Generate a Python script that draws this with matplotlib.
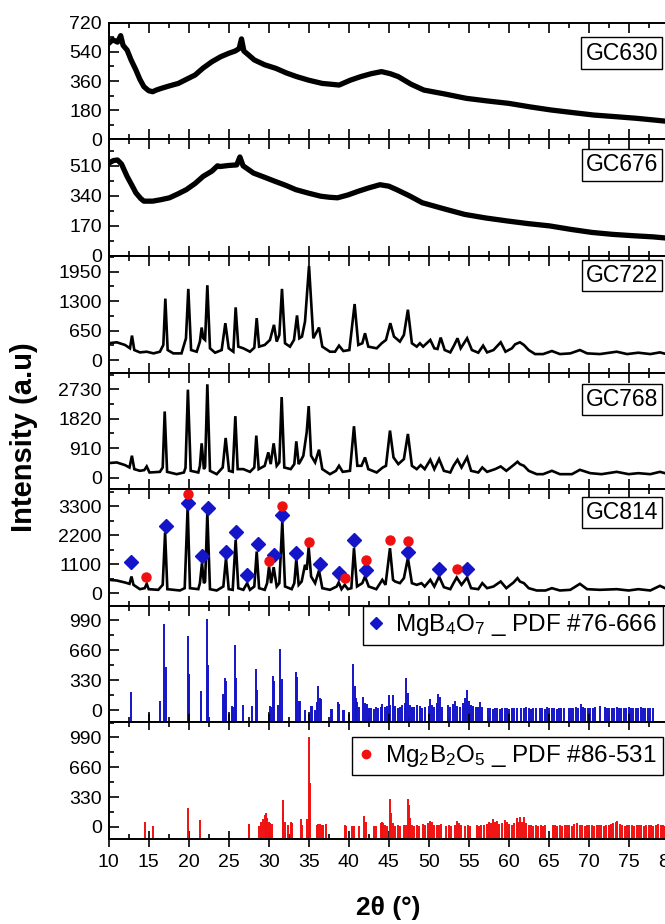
import matplotlib.pyplot as plt
from matplotlib.lines import Line2D
from matplotlib.ticker import MultipleLocator, AutoMinorLocator

plt.rcParams['font.family'] = ['Liberation Sans', 'DejaVu Sans']
plt.rcParams['mathtext.fontset'] = 'custom'
plt.rcParams['mathtext.rm'] = 'Liberation Sans'
plt.rcParams['mathtext.default'] = 'regular'

gc630 = [(10.0, 592), (10.5, 615), (11.1, 600), (11.5, 640), (11.8, 580), (12.3, 551), (12.8, 490),
         (13.4, 428), (13.9, 370), (14.4, 325), (15.0, 300), (15.5, 294), (16.0, 305), (16.6, 315),
         (17.6, 330), (18.7, 345), (19.7, 370), (20.8, 397), (21.8, 440), (22.9, 479), (24.0, 510),
         (25.0, 531), (25.8, 545), (26.3, 560), (26.6, 620), (26.9, 545), (27.5, 520), (28.2, 490),
         (29.5, 460), (30.9, 438), (32.2, 410), (33.5, 387), (35.0, 365), (36.7, 345), (37.8, 340),
         (38.8, 335), (40.2, 365), (41.5, 387), (42.8, 405), (44.1, 418), (45.2, 405), (46.2, 387),
         (47.8, 340), (49.4, 304), (52.0, 280), (54.7, 253), (57.3, 237), (60.0, 222), (62.7, 200),
         (65.3, 181), (68.0, 165), (70.6, 150), (73.3, 140), (75.9, 130), (78.0, 120), (80.0, 110)]

gc676 = [(10.0, 525), (10.6, 540), (11.1, 543), (11.6, 520), (12.3, 450), (12.9, 400), (13.4, 357),
         (14.0, 325), (14.4, 310), (15.5, 310), (16.5, 318), (17.6, 329), (18.6, 350), (19.7, 375),
         (20.8, 410), (21.8, 450), (22.9, 480), (23.6, 510), (23.9, 506), (25.0, 512), (26.0, 515),
         (26.4, 560), (26.8, 510), (28.1, 469), (29.5, 445), (30.8, 422), (32.1, 400), (33.4, 375),
         (35.0, 355), (36.5, 338), (37.6, 332), (38.6, 329), (39.9, 345), (41.2, 366), (42.5, 385),
         (43.9, 403), (45.0, 395), (46.0, 375), (47.6, 340), (49.2, 301), (51.8, 268), (54.5, 235),
         (57.1, 215), (59.8, 198), (62.4, 183), (65.1, 170), (67.8, 150), (70.4, 133), (73.0, 122),
         (75.7, 114), (78.0, 108), (80.0, 100)]

gc722 = [(9.95, 371), (11.0, 393), (12.04, 334), (12.66, 260), (12.91, 541), (13.2, 222), (13.9, 170),
         (14.75, 185), (15.6, 148), (16.4, 185), (16.83, 334), (17.08, 1357), (17.37, 222), (18.08, 148),
         (19.1, 148), (19.66, 482), (19.95, 1572), (20.3, 222), (21.0, 185), (21.4, 408), (21.62, 719),
         (21.83, 482), (22.05, 445), (22.33, 1653), (22.66, 260), (23.3, 163), (24.12, 222), (24.58, 815),
         (25.0, 260), (25.58, 185), (25.87, 1164), (26.2, 297), (26.83, 260), (27.66, 185), (28.2, 274),
         (28.5, 927), (28.8, 297), (29.5, 334), (30.16, 445), (30.66, 778), (31.0, 408), (31.33, 556),
         (31.66, 1572), (32.04, 371), (32.66, 297), (33.16, 445), (33.54, 986), (33.83, 482), (34.16, 519),
         (34.54, 853), (35.04, 2076), (35.58, 482), (36.29, 719), (36.7, 297), (37.66, 185), (38.29, 185),
         (38.79, 319), (39.33, 200), (40.08, 222), (40.74, 1238), (41.2, 334), (41.7, 371), (42.04, 593),
         (42.45, 297), (43.5, 260), (44.12, 371), (44.66, 445), (45.2, 815), (45.66, 519), (46.4, 408),
         (46.9, 556), (47.4, 1112), (47.9, 371), (48.5, 297), (48.9, 371), (49.3, 297), (50.2, 445),
         (50.7, 260), (51.1, 245), (51.5, 497), (52.0, 222), (52.7, 170), (53.2, 334), (53.6, 482),
         (54.0, 260), (54.8, 482), (55.4, 222), (56.2, 163), (56.8, 319), (57.3, 170), (58.1, 222),
         (59.0, 393), (59.6, 185), (60.4, 260), (60.8, 348), (61.1, 371), (61.4, 393), (61.9, 334),
         (62.5, 222), (63.3, 133), (64.3, 133), (65.4, 200), (66.4, 133), (67.7, 148), (68.9, 222),
         (69.8, 148), (71.4, 133), (73.5, 185), (74.8, 133), (76.2, 163), (77.7, 133), (78.9, 170),
         (80.0, 120)]

gc768 = [(9.95, 446), (11.0, 467), (12.04, 384), (12.6, 311), (12.9, 675), (13.2, 260), (13.9, 208),
         (14.45, 230), (14.75, 343), (15.1, 156), (16.4, 176), (16.75, 311), (17.0, 2045), (17.3, 176),
         (18.5, 104), (19.4, 156), (19.6, 300), (19.9, 2720), (20.25, 208), (21.2, 156), (21.4, 363),
         (21.62, 1059), (21.9, 260), (22.05, 330), (22.33, 2886), (22.66, 208), (23.5, 104), (24.25, 311),
         (24.62, 1225), (25.04, 208), (25.5, 176), (25.83, 1900), (26.12, 260), (26.83, 260), (27.66, 176),
         (28.2, 311), (28.45, 1298), (28.75, 260), (29.5, 363), (29.95, 779), (30.25, 415), (30.62, 1059),
         (31.0, 363), (31.33, 467), (31.62, 2491), (31.95, 311), (32.75, 260), (33.2, 415), (33.45, 1121),
         (33.75, 415), (34.0, 519), (34.33, 675), (34.75, 1401), (35.0, 2211), (35.3, 675), (35.8, 467),
         (36.29, 862), (36.7, 260), (37.66, 104), (38.4, 208), (38.79, 363), (39.25, 176), (40.16, 208),
         (40.66, 1588), (41.08, 363), (41.6, 363), (42.04, 623), (42.45, 260), (43.5, 156), (44.25, 311),
         (44.66, 363), (45.16, 1453), (45.6, 623), (46.2, 415), (46.9, 571), (47.4, 1349), (47.9, 363),
         (48.5, 260), (49.0, 384), (49.5, 260), (50.2, 550), (50.7, 260), (51.3, 571), (51.9, 208),
         (52.7, 156), (53.1, 363), (53.6, 550), (54.1, 311), (54.8, 623), (55.3, 208), (56.2, 156),
         (56.7, 311), (57.3, 176), (58.3, 260), (59.0, 343), (59.7, 208), (60.6, 384), (61.1, 488),
         (61.4, 415), (61.9, 363), (62.5, 208), (63.5, 104), (64.3, 104), (65.4, 208), (66.4, 104),
         (67.9, 104), (68.9, 239), (70.2, 135), (71.6, 104), (73.5, 176), (75.0, 104), (76.2, 135),
         (77.7, 104), (78.9, 176), (80.0, 104)]

gc814 = [(9.95, 508), (11.0, 482), (12.04, 406), (12.6, 355), (12.85, 634), (13.1, 317), (13.9, 152),
         (14.5, 190), (14.75, 355), (15.0, 152), (16.2, 127), (16.75, 317), (17.05, 2310), (17.33, 152),
         (18.9, 102), (19.5, 190), (19.87, 3300), (20.16, 190), (21.2, 152), (21.4, 381), (21.66, 1142),
         (21.9, 381), (22.05, 440), (22.33, 3046), (22.66, 152), (23.5, 102), (24.33, 254), (24.66, 1332),
         (25.0, 152), (25.5, 127), (25.87, 2030), (26.2, 190), (26.83, 127), (27.3, 381), (27.66, 127),
         (28.2, 254), (28.5, 1586), (28.8, 190), (29.5, 127), (29.8, 380), (30.04, 1015), (30.3, 381),
         (30.62, 990), (31.0, 254), (31.33, 381), (31.7, 2728), (32.04, 254), (32.87, 152), (33.2, 381),
         (33.45, 1294), (33.75, 317), (34.12, 444), (34.54, 1079), (34.75, 888), (35.0, 1751), (35.3, 634),
         (35.8, 381), (36.29, 863), (36.7, 190), (37.66, 127), (38.5, 254), (38.75, 406), (39.1, 152),
         (39.5, 317), (39.9, 152), (40.33, 190), (40.66, 1713), (41.04, 254), (41.7, 381), (42.04, 634),
         (42.5, 254), (43.45, 152), (44.2, 508), (44.6, 317), (45.16, 1713), (45.54, 508), (45.8, 444),
         (46.4, 381), (46.9, 571), (47.4, 1332), (47.9, 381), (48.5, 317), (49.1, 381), (49.5, 254),
         (50.2, 508), (50.7, 254), (51.3, 634), (51.9, 228), (52.7, 152), (53.1, 381), (53.5, 596),
         (54.1, 317), (54.8, 596), (55.3, 190), (56.2, 152), (56.7, 381), (57.3, 190), (58.1, 254),
         (59.0, 444), (59.7, 190), (60.6, 406), (61.1, 571), (61.4, 444), (61.9, 381), (62.5, 190),
         (63.5, 102), (64.6, 102), (65.4, 190), (66.4, 102), (67.7, 127), (68.9, 355), (69.8, 152),
         (71.4, 127), (73.5, 152), (75.0, 102), (76.2, 152), (77.7, 102), (78.9, 279), (80.0, 127)]

# phase markers on GC814
mgb4o7_marks = [(12.8, 1180), (17.1, 2576), (19.9, 3426), (21.7, 1409), (22.4, 3249), (24.7, 1574),
                (25.9, 2322), (27.3, 698), (28.6, 1878), (30.6, 1472), (31.7, 2969), (33.45, 1535),
                (36.4, 1129), (38.75, 749), (40.7, 2030), (42.1, 888), (47.4, 1561), (51.3, 914),
                (54.8, 914)]
mg2b2o5_marks = [(14.6, 622), (19.9, 3782), (30.0, 1206), (31.7, 3337), (35.0, 1942), (39.5, 584),
                 (42.1, 1269), (45.2, 2018), (47.4, 1992), (53.5, 914)]

# reference PDF cards (position, intensity)
mgb4o7_pdf = [(12.79, 205), (16.4, 101), (16.95, 949), (17.1, 474), (19.87, 818), (20.0, 400),
              (21.58, 213), (22.29, 1009), (22.4, 500), (24.25, 183), (24.4, 183), (24.58, 351),
              (24.7, 318), (25.42, 45), (25.55, 30), (25.79, 714), (25.9, 355), (26.83, 52), (27.87, 45),
              (28.41, 452), (28.54, 220), (30.16, 49), (30.3, 30), (30.58, 377), (30.7, 318), (31.2, 52),
              (31.45, 676), (31.62, 340), (33.37, 422), (33.5, 370), (33.75, 101), (33.9, 101), (34.5, 4),
              (35.25, 49), (35.4, 49), (35.79, 4), (36.0, 93), (36.2, 265), (36.37, 138), (36.54, 120),
              (37.79, 7), (37.95, 7), (38.62, 93), (38.75, 64), (39.25, 4), (39.4, 4), (40.58, 504),
              (40.74, 262), (40.9, 138), (41.08, 93), (41.3, 30), (41.83, 149), (42.04, 82), (42.25, 64),
              (42.5, 20), (42.8, 25), (43.1, 15), (43.4, 30), (43.7, 20), (44.0, 40), (44.2, 64), (44.5, 30),
              (44.8, 45), (45.0, 168), (45.2, 60), (45.58, 168), (45.8, 50), (46.1, 20), (46.4, 35),
              (46.7, 60), (47.0, 80), (47.2, 355), (47.4, 194), (47.6, 60), (47.9, 40), (48.2, 30),
              (48.6, 60), (48.9, 45), (49.2, 20), (49.5, 30), (50.0, 50), (50.2, 120), (50.4, 60),
              (50.7, 30), (51.0, 80), (51.2, 176), (51.4, 150), (51.7, 40), (52.4, 60), (52.7, 30),
              (53.0, 70), (53.3, 101), (53.6, 50), (53.9, 40), (54.3, 80), (54.6, 130), (54.8, 224),
              (55.0, 100), (55.3, 60), (55.6, 50), (55.9, 30), (56.2, 40), (56.4, 90), (56.7, 30),
              (57.4, 20), (57.7, 25), (58.0, 15), (58.3, 20), (58.6, 25), (58.9, 15), (59.2, 20), (59.5, 25),
              (59.8, 20), (60.1, 15), (60.4, 25), (60.7, 20), (61.0, 20), (61.6, 25), (61.9, 20), (62.2, 30),
              (62.5, 20), (62.8, 15), (63.1, 25), (63.4, 20), (63.9, 25), (64.2, 20), (64.5, 15), (64.8, 30),
              (65.1, 20), (65.4, 25), (65.7, 20), (66.0, 15), (66.3, 25), (66.6, 20), (66.9, 25), (67.5, 20),
              (67.8, 25), (68.1, 20), (68.4, 30), (68.7, 20), (69.0, 71), (69.3, 40), (69.6, 25), (69.9, 20),
              (70.2, 25), (70.5, 20), (70.8, 30), (71.4, 45), (72.0, 30), (72.3, 25), (72.6, 20), (72.9, 25),
              (73.2, 20), (73.5, 30), (73.8, 25), (74.1, 20), (74.4, 25), (74.7, 20), (75.0, 40), (75.3, 25),
              (75.6, 20), (75.9, 25), (76.2, 20), (76.5, 30), (76.8, 20), (77.1, 25), (77.4, 20), (77.7, 25),
              (78.0, 20)]

mg2b2o5_pdf = [(14.58, 52), (15.5, 11), (19.9, 208), (21.43, 78), (27.5, 37), (27.55, 30), (28.8, 15),
               (29.05, 59), (29.3, 89), (29.5, 133), (29.6, 152), (29.8, 96), (30.0, 59), (30.2, 40),
               (30.4, 30), (31.75, 297), (31.8, 178), (32.0, 59), (32.35, 22), (32.75, 59), (32.9, 40),
               (33.98, 85), (34.1, 22), (34.8, 93), (35.08, 994), (35.2, 486), (36.0, 25), (36.2, 30),
               (36.4, 30), (36.6, 25), (36.8, 20), (37.1, 33), (39.5, 22), (39.6, 15), (40.4, 15), (40.6, 15),
               (41.3, 15), (41.95, 126), (42.1, 59), (43.2, 11), (43.4, 11), (44.0, 40), (44.2, 59),
               (44.3, 48), (44.5, 20), (44.8, 15), (45.15, 304), (45.3, 152), (45.5, 40), (45.8, 15),
               (46.1, 20), (46.4, 15), (46.9, 20), (47.15, 25), (47.4, 311), (47.5, 245), (47.7, 96),
               (47.9, 20), (48.2, 15), (48.5, 20), (48.8, 15), (49.3, 30), (49.6, 25), (49.9, 40), (50.2, 67),
               (50.4, 50), (50.7, 20), (51.0, 25), (51.3, 20), (51.6, 30), (52.2, 15), (52.5, 20), (52.8, 15),
               (53.3, 20), (53.6, 67), (53.8, 40), (54.1, 20), (54.6, 15), (54.9, 20), (55.2, 15), (56.0, 20),
               (56.3, 15), (56.6, 25), (56.9, 20), (57.3, 30), (57.5, 52), (57.8, 40), (58.0, 89), (58.3, 50),
               (58.5, 67), (58.8, 30), (59.2, 40), (59.5, 82), (59.8, 50), (60.1, 30), (60.4, 25), (60.7, 40),
               (61.0, 96), (61.2, 60), (61.4, 115), (61.7, 50), (61.9, 115), (62.2, 40), (62.5, 25),
               (62.8, 20), (63.1, 15), (63.4, 20), (63.7, 15), (64.0, 20), (64.3, 15), (64.6, 20), (65.5, 25),
               (65.8, 20), (66.1, 15), (66.4, 20), (66.7, 15), (67.0, 20), (67.3, 25), (67.6, 20), (67.9, 15),
               (68.2, 30), (68.6, 41), (68.9, 25), (69.2, 20), (69.5, 15), (69.8, 20), (70.1, 25), (70.4, 20),
               (70.7, 15), (71.0, 20), (71.3, 25), (71.6, 20), (71.9, 15), (72.2, 20), (72.5, 25), (72.8, 30),
               (73.1, 40), (73.4, 55), (73.6, 67), (73.9, 30), (74.2, 20), (74.5, 15), (74.8, 20), (75.1, 25),
               (75.4, 20), (75.7, 15), (76.0, 20), (76.3, 25), (76.6, 20), (76.9, 15), (77.2, 20), (77.5, 25),
               (77.8, 20), (78.1, 15), (78.4, 20), (78.7, 30), (79.0, 25), (79.3, 20), (79.6, 15), (79.9, 20)]

sample_names = ['GC630', 'GC676', 'GC722', 'GC768', 'GC814']
y_ticks = [[0, 180, 360, 540, 720], [0, 170, 340, 510], [0, 650, 1300, 1950],
           [0, 910, 1820, 2730], [0, 1100, 2200, 3300], [0, 330, 660, 990], [0, 330, 660, 990]]
y_limits = [(0, 720), (0, 660), (-275, 2300), (-360, 3250), (-480, 3960), (-135, 1150), (-133, 1157)]
x_ticks = list(range(10, 85, 5))

blue = '#1414c8'
red = '#f01010'

# ---- layout ----
fig = plt.figure(figsize=(6.65, 9.24), dpi=100)
W, H = 665.0, 924.0
left_px, right_px = 108.7, 668.7
top_px, bottom_px = 22.7, 839.0
panel_h = (bottom_px - top_px) / 7

axes = []
for k in range(7):
    y0 = top_px + (k + 1) * panel_h
    ax = fig.add_axes([left_px / W, 1 - y0 / H, (right_px - left_px) / W, panel_h / H])
    axes.append(ax)

label_y = [0.74, 0.78, 0.83, 0.77, 0.80]

for k, ax in enumerate(axes):
    ax.set_xlim(10, 80)
    ax.set_ylim(*y_limits[k])
    ax.set_yticks(y_ticks[k])
    ax.set_xticks(x_ticks)
    ax.xaxis.set_minor_locator(MultipleLocator(2.5))
    ax.yaxis.set_minor_locator(AutoMinorLocator(2))
    ax.tick_params(which='both', direction='in', top=True, bottom=True, left=True, right=False,
                   width=1.2, labelsize=14, pad=5)
    ax.tick_params(which='major', length=7)
    ax.tick_params(which='minor', length=3.5)
    for sp in ax.spines.values():
        sp.set_linewidth(1.4)
    if k < 6:
        ax.tick_params(axis='x', labelbottom=False)

# amorphous samples
for k, data in enumerate([gc630, gc676]):
    tt, ii = zip(*data)
    axes[k].plot(tt, ii, color='black', lw=3.8, solid_joinstyle='round')

# crystallised samples
for k, data in zip([2, 3, 4], [gc722, gc768, gc814]):
    tt, ii = zip(*data)
    axes[k].plot(tt, ii, color='black', lw=1.9, solid_joinstyle='miter')

for k, name in enumerate(sample_names):
    axes[k].text(0.981, label_y[k], name, transform=axes[k].transAxes, ha='right', va='center',
                 fontsize=16.5, bbox=dict(boxstyle='square,pad=0.18', fc='white', ec='black', lw=1))

# phase markers
mx, my = zip(*mgb4o7_marks)
axes[4].plot(mx, my, ls='none', marker='D', ms=7.5, color=blue)
mx, my = zip(*mg2b2o5_marks)
axes[4].plot(mx, my, ls='none', marker='o', ms=6.5, color=red)

# reference sticks
pos, hh = zip(*mgb4o7_pdf)
axes[5].vlines(pos, y_limits[5][0], hh, color=blue, lw=1.4)
pos, hh = zip(*mg2b2o5_pdf)
axes[6].vlines(pos, y_limits[6][0], hh, color=red, lw=1.4)

leg_kw = dict(fontsize=17.5, frameon=True, fancybox=False, framealpha=1, edgecolor='black',
              handlelength=0.6, handletextpad=0.5, borderpad=0.25, loc='upper right')
h1 = Line2D([], [], ls='none', marker='D', ms=6, color=blue)
lg = axes[5].legend([h1], [r'MgB$_4$O$_7$ _ PDF #76-666'], bbox_to_anchor=(0.99, 0.995),
                    borderaxespad=0, **leg_kw)
lg.get_frame().set_linewidth(1)
h2 = Line2D([], [], ls='none', marker='o', ms=6, color=red)
lg = axes[6].legend([h2], [r'Mg$_2$B$_2$O$_5$ _ PDF #86-531'], bbox_to_anchor=(0.99, 0.875),
                    borderaxespad=0, **leg_kw)
lg.get_frame().set_linewidth(1)

axes[6].tick_params(axis='x', which='major', direction='inout', length=12, pad=5)

xc = (left_px + right_px) / 2 / W
fig.text(xc, 1 - 908 / H, '2θ (°)', ha='center', va='center', fontsize=19, fontweight='bold')
fig.text(24 / W, 1 - 437 / H, 'Intensity (a.u)', ha='center', va='center', rotation=90,
         fontsize=21, fontweight='bold')

fig.savefig('out.png', dpi=100)
